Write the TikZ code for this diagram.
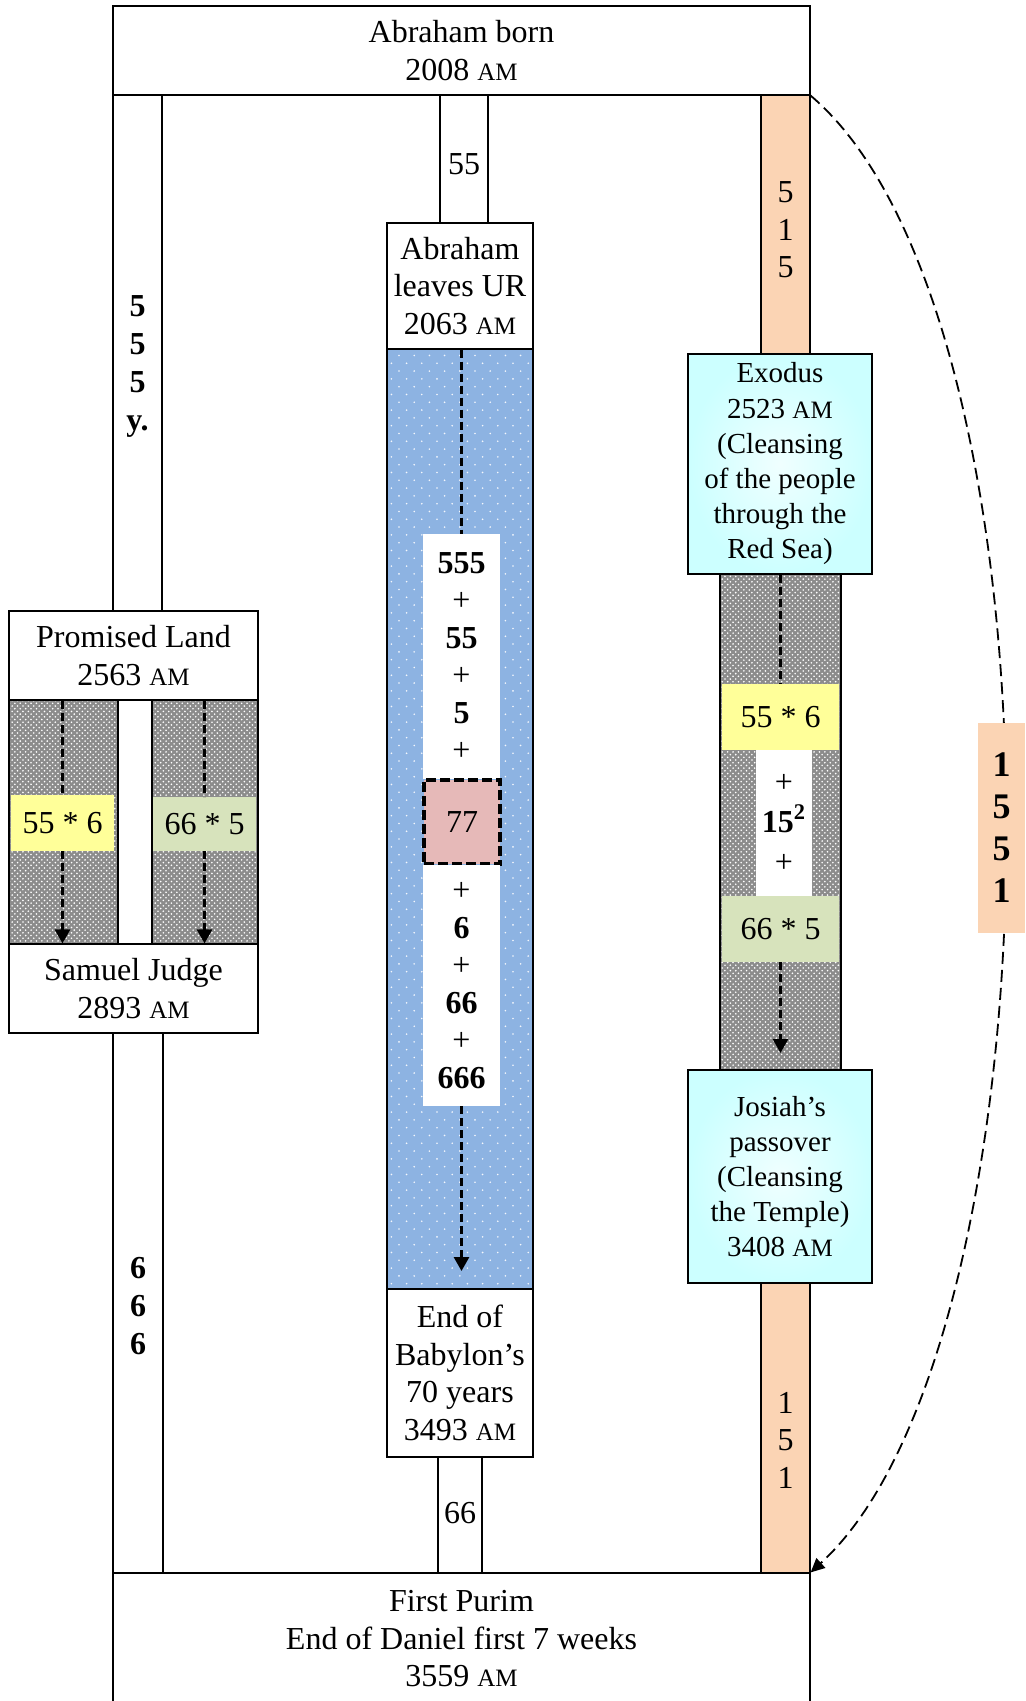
\documentclass[tikz,border=0pt]{standalone}
\usepackage{fontspec}
\setmainfont{Liberation Serif}
\usetikzlibrary{arrows.meta,patterns.meta}
\definecolor{barOrange}{RGB}{251,212,180}
\definecolor{fieldBlue}{RGB}{141,179,226}
\definecolor{noteYellow}{RGB}{255,255,153}
\definecolor{noteGreen}{RGB}{215,227,188}
\definecolor{notePink}{RGB}{230,185,184}
\definecolor{eventCyan}{RGB}{204,255,255}
\newcommand{\mainfs}{\fontsize{16}{18.75}\selectfont}
\newcommand{\smallfs}{\fontsize{14.5}{17.6}\selectfont}
\newcommand{\bigfs}{\fontsize{18}{21}\selectfont}
\newcommand{\AMsc}{{\fontsize{12.5}{12.5}\selectfont AM}}
\tikzdeclarepattern{
  name=hatchdots,
  type=uncolored,
  bottom left={(-.1pt,-.1pt)},
  top right={(2.8pt,2.8pt)},
  tile size={(2.7pt,2.7pt)},
  code={
    \fill (.675pt,.675pt) circle[radius=.45pt];
    \fill (2.025pt,2.025pt) circle[radius=.45pt];
  }
}
\tikzdeclarepattern{
  name=bluedots,
  type=uncolored,
  bottom left={(-.1pt,-.1pt)},
  top right={(7.7pt,7.9pt)},
  tile size={(7.6pt,7.8pt)},
  code={
    \fill (1.9pt,1.95pt) circle[radius=.45pt];
    \fill (5.7pt,5.85pt) circle[radius=.45pt];
  }
}

\begin{document}
\begin{tikzpicture}[x=0.5pt,y=-0.5pt,
  bar/.style={draw,fill=white,line width=.6pt},
  hatch/.style={draw,line width=.6pt,preaction={fill=gray!90},pattern=hatchdots,pattern color=white},
  bluefield/.style={draw,line width=.6pt,preaction={fill=fieldBlue},pattern=bluedots,pattern color=white!90!fieldBlue},
  box/.style={draw,fill=white,line width=.6pt,inner sep=0pt,align=center,font=\mainfs},
  evbox/.style={draw,line width=.6pt,inner sep=0pt,align=center,font=\smallfs,
    shading=radial,inner color=eventCyan!30,outer color=eventCyan},
  note/.style={inner sep=0pt,align=center,font=\mainfs},
  numlabel/.style={inner sep=0pt,align=center,font=\mainfs},
  barlabel/.style={inner sep=0pt,align=center,font=\mainfs\bfseries,
    execute at begin node=\setlength{\baselineskip}{19pt}},
  flow/.style={line width=1.4pt,dash pattern=on 4pt off 2pt},
  flowtip/.style={flow,-{Triangle[length=7pt,width=7.5pt]}},
  link/.style={line width=.9pt,dash pattern=on 6pt off 3pt,-{Triangle[length=7pt,width=6.5pt]}}]
\useasboundingbox (0,0) rectangle (1025,1701);

% columns between the events
\draw[bar] (113,95) rectangle (162,611);
\draw[bar] (113,1033) rectangle (163,1573);
\draw[bar] (440,95) rectangle (488,223);
\draw[bar] (438,1457) rectangle (482,1573);
\draw[bar,fill=barOrange] (761,95) rectangle (810,354);
\draw[bar,fill=barOrange] (761,1283) rectangle (810,1573);
\draw[hatch] (9,700) rectangle (258,944);
\draw[bar] (118,700) rectangle (152,944);
\draw[hatch] (720,574) rectangle (841,1070);
\draw[bluefield] (387,349) rectangle (533,1289);

% events
\node[box,minimum width=348.5pt,minimum height=44.5pt] (top) at (461.5,50.5) {Abraham born\\2008 \AMsc};
\node[box,minimum width=73pt,minimum height=63pt] (ur) at (460,286) {Abraham\\leaves UR\\2063 \AMsc};
\node[box,minimum width=73pt,minimum height=84pt] (bab) at (460,1373) {End of\\Babylon’s\\70 years\\3493 \AMsc};
\node[box,minimum width=348.5pt,minimum height=66pt] (bot) at (461.5,1639) {First Purim\\End of Daniel first 7 weeks\\3559 \AMsc};
\node[box,minimum width=124.5pt,minimum height=44.5pt] (pl) at (133.5,655.5) {Promised Land\\2563 \AMsc};
\node[box,minimum width=124.5pt,minimum height=44.5pt] (sj) at (133.5,988.5) {Samuel Judge\\2893 \AMsc};
\node[evbox,minimum width=92pt,minimum height=110pt] (ex) at (780,464) {Exodus\\2523 \AMsc\\(Cleansing\\of the people\\through the\\Red Sea)};
\node[evbox,minimum width=92pt,minimum height=106.5pt] (jo) at (780,1176.5) {Josiah’s\\passover\\(Cleansing\\the Temple)\\3408 \AMsc};

% year counts on the columns
\node[barlabel] (l555) at (137.5,366) {5\\5\\5\\y.};
\node[barlabel] (l666) at (138,1306) {6\\6\\6};
\node[numlabel] (l55) at (464,164) {55};
\node[numlabel] (l66) at (460,1513) {66};
\node[numlabel] (l515) at (785.5,230) {5\\1\\5};
\node[numlabel] (l151) at (785.5,1440) {1\\5\\1};

% sums inside the periods
\node[note,fill=noteYellow,minimum width=51.5pt,minimum height=28pt] (yl) at (62.5,823) {55 * 6};
\node[note,fill=noteGreen,minimum width=51.5pt,minimum height=27pt] (gl) at (204.5,824) {66 * 5};
\node[note,fill=noteYellow,minimum width=58.5pt,minimum height=33pt] (yr) at (780.5,717) {55 * 6};
\node[note,fill=white,minimum width=28pt,minimum height=73pt,
  execute at begin node=\setlength{\baselineskip}{20pt}] (wr) at (784,823) {+\\\textbf{15\textsuperscript{2}}\\+};
\node[note,fill=noteGreen,minimum width=58.5pt,minimum height=33pt] (gr) at (780.5,929) {66 * 5};
\node[note,fill=white,minimum width=38.5pt,minimum height=122.5pt] (su) at (461.5,656.5) {\textbf{555}\\+\\\textbf{55}\\+\\\textbf{5}\\+};
\node[note,fill=notePink,draw,line width=1.6pt,dash pattern=on 5pt off 2pt,
  minimum width=38pt,minimum height=42pt] (n77) at (462,822) {77};
\node[note,fill=white,minimum width=38.5pt,minimum height=120.5pt] (sd) at (461.5,985.5) {+\\\textbf{6}\\+\\\textbf{66}\\+\\\textbf{666}};

% flows
\coordinate (cend) at (461.5,1271);
\coordinate (rend) at (780.5,1053);
\draw[flow] (pl.south -| yl.north) -- (yl.north);
\draw[flowtip] (yl.south) -- (yl.south |- sj.north);
\draw[flow] (pl.south -| gl.north) -- (gl.north);
\draw[flowtip] (gl.south) -- (gl.south |- sj.north);
\draw[flow] (ur.south -| su.north) -- (su.north);
\draw[flowtip] (sd.south) -- (cend);
\draw[flow] (ex.south -| yr.north) -- (yr.north);
\draw[flowtip] (gr.south) -- (rend);

% whole span
\draw[link] (top.south east) .. controls (1075,320) and (1065,1340) .. (bot.north east);
\node[fill=barOrange,inner sep=0pt,align=center,font=\bigfs\bfseries,
  minimum width=23.5pt,minimum height=105pt] (n1551) at (1001.5,828) {1\\5\\5\\1};
\end{tikzpicture}
\end{document}
